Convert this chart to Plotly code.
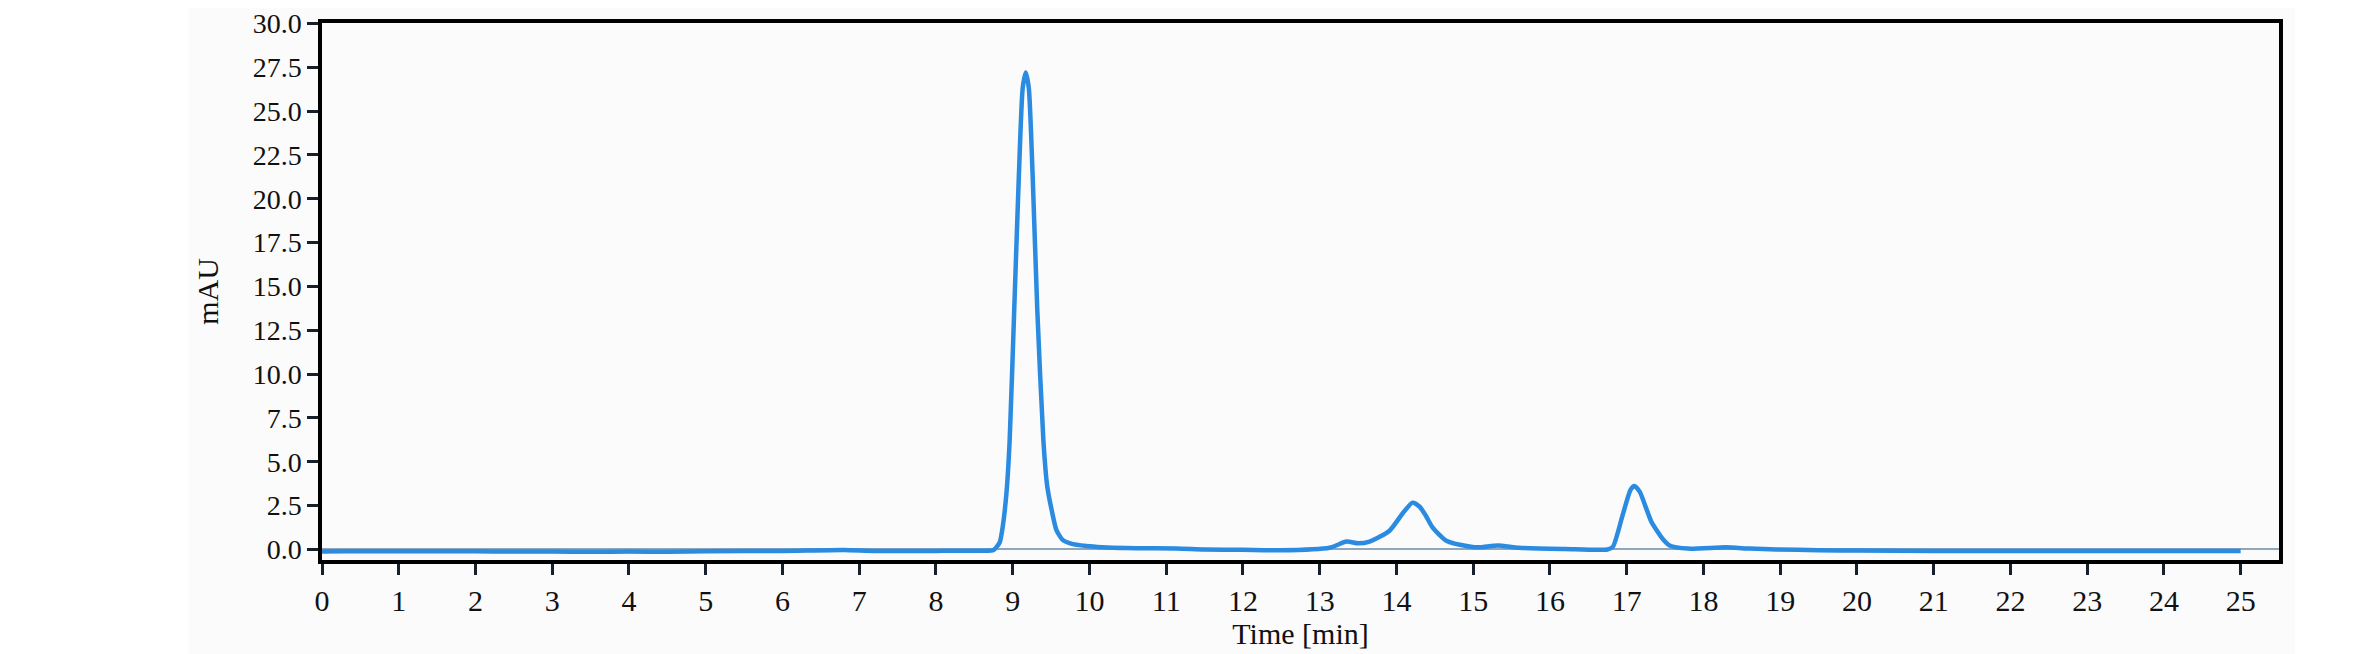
import plotly.graph_objects as go

# Chromatogram trace (time in min, absorbance in mAU)
time_min = [0.0, 0.3, 1.0, 2.0, 2.5, 3.0, 3.5, 4.0, 4.5, 5.0, 6.0, 6.8, 7.2, 8.0, 8.6, 8.75,
            8.83, 8.87, 8.92, 8.96, 9.02, 9.08, 9.13, 9.17, 9.21, 9.26, 9.32, 9.40, 9.45,
            9.51, 9.57, 9.65, 9.75, 9.96, 10.48, 11.13, 11.5, 12.0, 12.48, 13.13, 13.35,
            13.5, 13.65, 13.91, 14.08, 14.21, 14.3, 14.38, 14.47, 14.65, 14.95, 15.08, 15.32, 15.6,
            16.2, 16.75, 16.82, 16.95, 17.05, 17.1, 17.17, 17.25, 17.32, 17.38, 17.47, 17.56,
            17.8, 18.29, 18.6, 18.95, 19.5, 20.0, 21.0, 22.0, 23.0, 24.0, 25.0]
mau = [-0.12, -0.1, -0.1, -0.1, -0.12, -0.12, -0.13, -0.12, -0.13, -0.1, -0.08, -0.03, -0.08, -0.08, -0.07, -0.03,
       0.4, 1.3, 3.3, 6.2, 13.7, 21.3, 26.3, 27.2, 26.3, 21.3, 13.7, 6.2, 3.6,
       2.2, 1.1, 0.55, 0.35, 0.2, 0.08, 0.06, 0.0, -0.02, -0.05, 0.1, 0.45,
       0.35, 0.45, 1.07, 2.05, 2.67, 2.45, 1.95, 1.26, 0.5, 0.17, 0.12, 0.23, 0.1,
       0.03, 0.0, 0.15, 2.0, 3.4, 3.62, 3.3, 2.4, 1.6, 1.17, 0.6, 0.23,
       0.05, 0.12, 0.05, 0.0, -0.04, -0.06, -0.08, -0.08, -0.08, -0.08, -0.08]

x_ticks = list(range(0, 26))
y_ticks = [0.0, 2.5, 5.0, 7.5, 10.0, 12.5, 15.0, 17.5, 20.0, 22.5, 25.0, 27.5, 30.0]
x_title = "Time [min]"
y_title = "mAU"

FONT = "Liberation Serif"
W, H = 2356, 654
BODY = 8  # default page margin of the html body
L, R, T, B = 314, 85, 15, 102
pw, ph = W - L - R, H - T - B

fig = go.Figure()
fig.add_trace(go.Scatter(
    x=time_min, y=mau, mode="lines",
    line=dict(color="#2a8be0", width=4.5, shape="spline", smoothing=0.6),
    showlegend=False, hoverinfo="x+y",
))

axis_common = dict(
    showline=True, linecolor="black", linewidth=3.5, mirror=True,
    ticks="outside", ticklen=11, tickwidth=3, tickcolor="#15202b",
    showgrid=False, ticklabeloverflow="allow",
)

fig.update_xaxes(
    range=[0, 25.5], tickmode="array", tickvals=x_ticks,
    ticktext=[str(v) for v in x_ticks], zeroline=False,
    tickfont=dict(family=FONT, size=30, color="#111111"),
    title=dict(text=x_title, font=dict(family=FONT, size=30, color="#111111"), standoff=6),
    automargin=False, **axis_common,
)
fig.update_yaxes(
    range=[-0.6, 30.02], tickmode="array", tickvals=y_ticks,
    ticktext=[f"{v:.1f}" for v in y_ticks],
    zeroline=True, zerolinecolor="#8fa6bb", zerolinewidth=1.5,
    tickfont=dict(family=FONT, size=28, color="#111111"),
    title=dict(text=y_title, font=dict(family=FONT, size=30, color="#111111"), standoff=26),
    automargin=False, **axis_common,
)

# faint grey backdrop behind the chart region (page px 189..2295)
x0p = (189 - BODY - L) / pw
x1p = (2295 - BODY - L) / pw
fig.add_shape(type="rect", xref="paper", yref="paper", layer="below",
              x0=x0p, x1=x1p, y0=-(B / ph), y1=1 + T / ph,
              fillcolor="#fbfbfb", line=dict(width=0))

fig.update_layout(
    width=W, height=H,
    margin=dict(l=L, r=R, t=T, b=B, pad=0),
    paper_bgcolor="white", plot_bgcolor="#fdfdfd",
    font=dict(family=FONT, size=30, color="#111111"),
)

fig.write_html("out.html")
